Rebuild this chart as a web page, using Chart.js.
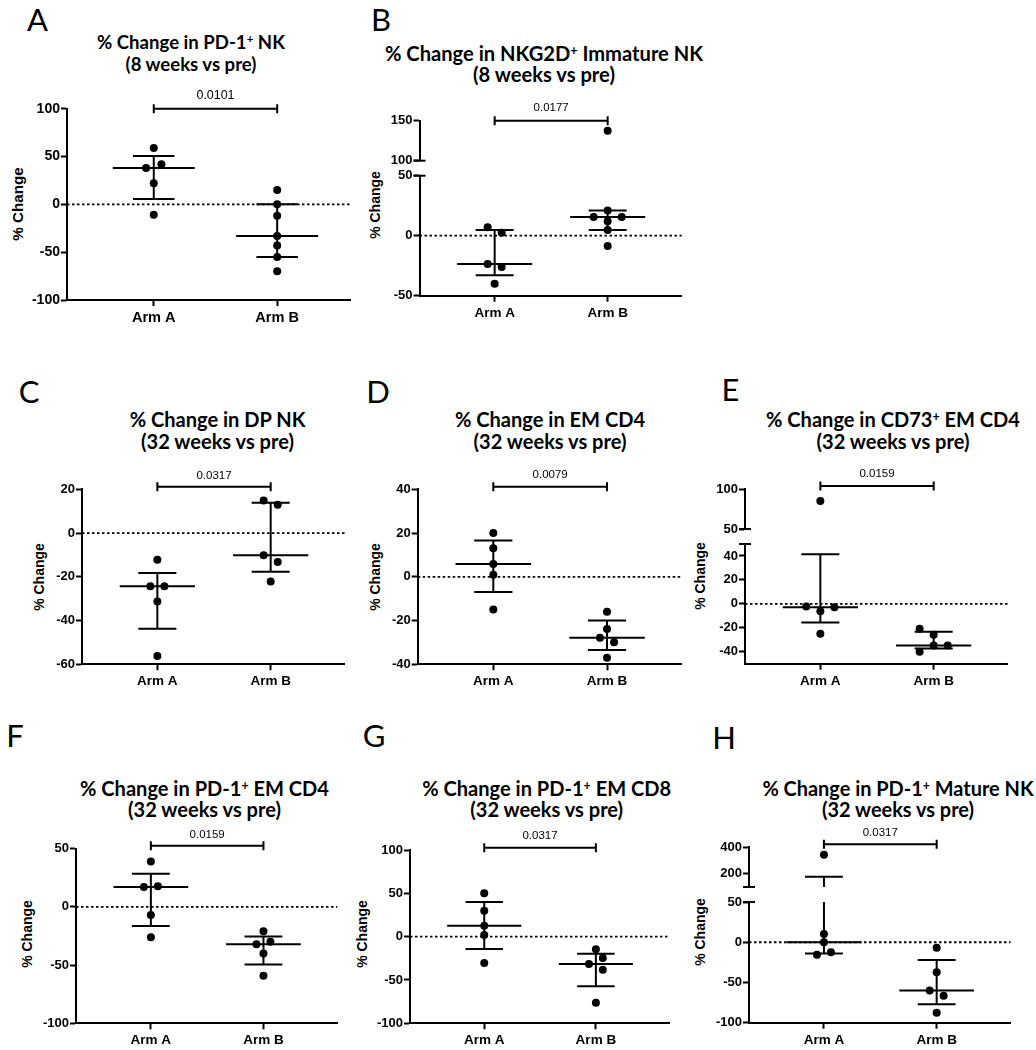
<!DOCTYPE html>
<html>
<head>
<meta charset="utf-8">
<script src="https://cdn.jsdelivr.net/npm/chart.js@4.4.1/dist/chart.umd.min.js"></script>
<style>
  html, body { margin: 0; padding: 0; background: #fff; }
  #page { position: relative; width: 1036px; height: 1050px; overflow: hidden; background: #fff; }
  #page canvas { position: absolute; }
  .letter { position: absolute; font-family: Lato, sans-serif; font-size: 31px; line-height: 1; color: #000; transform: translate(-50%, -50%); }
  .title { position: absolute; font-family: Lato, sans-serif; font-weight: 700; font-size: 20px; line-height: 1; color: #000; white-space: nowrap; transform: translate(-50%, -50%); }
  .title sup { font-size: 0.62em; position: relative; top: -0.45em; vertical-align: baseline; line-height: 0; }
  .ytitle { position: absolute; font-family: "Liberation Sans", Arial, sans-serif; font-weight: 700; font-size: 14px; line-height: 1; color: #000; white-space: nowrap; transform: translate(-50%, -50%) rotate(-90deg); }
</style>
</head>
<body>
<div id="page"></div>
<script>
const categories = ["Arm A", "Arm B"];

const panelLetters = ["A", "B", "C", "D", "E", "F", "G", "H"];
const titleLines1 = [
  "% Change in PD-1<sup>+</sup> NK",
  "% Change in NKG2D<sup>+</sup> Immature NK",
  "% Change in DP NK",
  "% Change in EM CD4",
  "% Change in CD73<sup>+</sup> EM CD4",
  "% Change in PD-1<sup>+</sup> EM CD4",
  "% Change in PD-1<sup>+</sup> EM CD8",
  "% Change in PD-1<sup>+</sup> Mature NK"
];
const titleLines2 = [
  "(8 weeks vs pre)", "(8 weeks vs pre)", "(32 weeks vs pre)", "(32 weeks vs pre)",
  "(32 weeks vs pre)", "(32 weeks vs pre)", "(32 weeks vs pre)", "(32 weeks vs pre)"
];
const pValues = ["0.0101", "0.0177", "0.0317", "0.0079", "0.0159", "0.0159", "0.0317", "0.0317"];
const yTitle = "% Change";

// % change per subject (Arm A / Arm B)
const pd1NkA = [59, 42, 38, 22, -11];
const pd1NkB = [15, 0, -12, -33, -43, -55, -70];
const nkg2dA = [7, 2.5, -23.5, -26, -40];
const nkg2dB = [137.5, 21, 15.5, 12, 15.5, 4.7, -8.5];
const dpNkA = [-12.2, -24.3, -24.3, -31.3, -56.2];
const dpNkB = [14.9, 12.9, -10.2, -13.2, -22.2];
const emCd4A = [20, 13.1, 5.9, 0.9, -14.9];
const emCd4B = [-16, -23.9, -27.9, -29.9, -37];
const cd73A = [85, -2.2, -6.1, -2.8, -25];
const cd73B = [-20.8, -25.8, -34.7, -34.7, -40];
const pd1Cd4A = [39.1, 17.1, 17.7, -6.9, -26];
const pd1Cd4B = [-20.9, -32, -30, -40, -59.1];
const pd1Cd8A = [50, 30, 12.7, 1.9, -30.4];
const pd1Cd8B = [-14.6, -31.5, -24.6, -38.1, -76.2];
const pd1MatA = [344, 10.3, 0, -15.7, -12.4];
const pd1MatB = [-7, -37.2, -59.9, -66.5, -87.6];

// y tick labels
const pd1NkTicks = [-100, -50, 0, 50, 100];
const nkg2dTicksUpper = [100, 150];
const nkg2dTicksLower = [-50, 0, 50];
const dpNkTicks = [-60, -40, -20, 0, 20];
const emCd4Ticks = [-40, -20, 0, 20, 40];
const cd73TicksUpper = [50, 100];
const cd73TicksLower = [-40, -20, 0, 20, 40];
const pd1Cd4Ticks = [-100, -50, 0, 50];
const pd1Cd8Ticks = [-100, -50, 0, 50, 100];
const pd1MatTicksUpper = [200, 400];
const pd1MatTicksLower = [-100, -50, 0, 50];

// sideways spread of the dots (in half-dot steps), as prism laid them out
const zeros = (n) => new Array(n).fill(0);
const jitter = {
  pd1NkA: [0, 1, -1, 0, 0], pd1NkB: zeros(7),
  nkg2dA: [-1, 1, -1, 1, 0], nkg2dB: [0, 0, -2, 0, 2, 0, 0],
  dpNkA: [0, -1, 1, 0, 0], dpNkB: [-1, 1, -1, 1, 0],
  emCd4A: zeros(5), emCd4B: [0, 0, -1, 1, 0],
  cd73A: [0, -2, 0, 2, 0], cd73B: [-2, 0, 0, 2, -2],
  pd1Cd4A: [0, -1, 1, 0, 0], pd1Cd4B: [0, -1, 1, 0, 0],
  pd1Cd8A: zeros(5), pd1Cd8B: [0, -1, 1, 1, 0],
  pd1MatA: [0, 0, 0, -1, 1], pd1MatB: [0, 0, -1, 1, 0]
};

const YW = 50;        // width kept for y tick labels
const XH = 34;        // height kept for x tick labels
const PAD_TOP = 34;   // room for the p-value bracket
const PAD_RIGHT = 6;
const HALF_LANE = 0.062;
const MED_W = 0.332;
const CAP_W = 0.168;
const X_RANGE = [0.335, 2.655];

// page layout of each panel (pixels)
const panels = [
  { values: [pd1NkA, pd1NkB], lanes: [jitter.pd1NkA, jitter.pd1NkB], big: true,
    letterAt: [37.5, 19], titleX: 191, titleY: [41.5, 63.5], titleW: 131, yTitleAt: [18.3, 204],
    left: 67, right: 350, xRange: [0.297, 2.59], lift: 0, gap: 13.5,
    segments: [{ min: -100, max: 100, ticks: pd1NkTicks, top: 108.7, bottom: 300 }] },
  { values: [nkg2dA, nkg2dB], lanes: [jitter.nkg2dA, jitter.nkg2dB],
    letterAt: [381, 19], titleX: 544, titleY: [53, 73.5], titleW: 142, yTitleAt: [375, 205],
    left: 419.5, right: 681.7, lift: 0, gap: 12.4,
    segments: [{ min: 100, max: 150, ticks: nkg2dTicksUpper, top: 120.7, bottom: 160.7 },
               { min: -50, max: 50, ticks: nkg2dTicksLower, top: 175.7, bottom: 295.7 }] },
  { values: [dpNkA, dpNkB], lanes: [jitter.dpNkA, jitter.dpNkB],
    letterAt: [29, 391], titleX: 217.5, titleY: [419, 440.7], titleW: 153, yTitleAt: [39.3, 577],
    left: 82, right: 344.9, lift: 2.5, gap: 11,
    segments: [{ min: -60, max: 20, ticks: dpNkTicks, top: 489.3, bottom: 664.3 }] },
  { values: [emCd4A, emCd4B], lanes: [jitter.emCd4A, jitter.emCd4B],
    letterAt: [378, 391], titleX: 550, titleY: [419, 440.7], titleW: 153, yTitleAt: [375, 577],
    left: 417.7, right: 681.5, lift: 2.5, gap: 12,
    segments: [{ min: -40, max: 40, ticks: emCd4Ticks, top: 489.3, bottom: 664.3 }] },
  { values: [cd73A, cd73B], lanes: [jitter.cd73A, jitter.cd73B],
    letterAt: [730.5, 389], titleX: 893, titleY: [419, 440.7], titleW: 153, yTitleAt: [700, 576],
    left: 745, right: 1007.9, lift: 3, gap: 12,
    segments: [{ min: 50, max: 100, ticks: cd73TicksUpper, top: 489, bottom: 529 },
               { min: -50, max: 50, ticks: cd73TicksLower, top: 544, bottom: 663.7 }] },
  { values: [pd1Cd4A, pd1Cd4B], lanes: [jitter.pd1Cd4A, jitter.pd1Cd4B],
    letterAt: [15, 735], titleX: 204.5, titleY: [787.5, 809], titleW: 153, yTitleAt: [26.7, 934],
    left: 76, right: 337.2, lift: 3, gap: 10.7,
    segments: [{ min: -100, max: 50, ticks: pd1Cd4Ticks, top: 848.7, bottom: 1023.3 }] },
  { values: [pd1Cd8A, pd1Cd8B], lanes: [jitter.pd1Cd8A, jitter.pd1Cd8B],
    letterAt: [374, 735], titleX: 546.7, titleY: [787.5, 809], titleW: 153, yTitleAt: [361.7, 934],
    left: 410, right: 669, lift: 2.3, gap: 11.7,
    segments: [{ min: -100, max: 100, ticks: pd1Cd8Ticks, top: 850, bottom: 1023.3 }] },
  { values: [pd1MatA, pd1MatB], lanes: [jitter.pd1MatA, jitter.pd1MatB],
    letterAt: [724, 737], titleX: 898, titleY: [788.5, 810], titleW: 152, yTitleAt: [700, 932],
    left: 749, right: 1010.5, lift: 3, gap: 11,
    segments: [{ min: 100, max: 400, ticks: pd1MatTicksUpper, top: 847.3, bottom: 887 },
               { min: -100, max: 50, ticks: pd1MatTicksLower, top: 902, bottom: 1022.7 }] }
];

const page = document.getElementById("page");
const SANS = "'Liberation Sans', Arial, sans-serif";

// prism-style quantile: position p*(n+1), linear between neighbours
const quantile = (sorted, p) => {
  const n = sorted.length;
  const h = p * (n + 1);
  if (h <= 1) return sorted[0];
  if (h >= n) return sorted[n - 1];
  const lo = Math.floor(h);
  return sorted[lo - 1] + (h - lo) * (sorted[lo] - sorted[lo - 1]);
};

// median line, two caps and the whisker, broken apart by null points
const errorBarPoints = (vals, c) => {
  const s = [...vals].sort((a, b) => a - b);
  const med = quantile(s, 0.5), q1 = quantile(s, 0.25), q3 = quantile(s, 0.75);
  return [
    { x: c - MED_W, y: med }, { x: c + MED_W, y: med }, { x: c, y: null },
    { x: c - CAP_W, y: q3 }, { x: c + CAP_W, y: q3 }, { x: c, y: null },
    { x: c - CAP_W, y: q1 }, { x: c + CAP_W, y: q1 }, { x: c, y: null },
    { x: c, y: q1 }, { x: c, y: q3 }
  ];
};

const decorations = {
  id: "decorations",
  afterDatasetsDraw(chart, args, opts) {
    const { ctx, chartArea } = chart;
    const x = chart.scales.x;
    ctx.save();
    ctx.strokeStyle = "#000";
    ctx.fillStyle = "#000";
    ctx.lineWidth = 2;
    if (opts.breakAt) {
      const y = opts.breakAt === "top" ? chartArea.top : chartArea.bottom;
      ctx.beginPath();
      ctx.moveTo(chartArea.left - 6, y);
      ctx.lineTo(chartArea.left + 6, y);
      ctx.stroke();
    }
    if (opts.pValue) {
      const x1 = x.getPixelForValue(1);
      const x2 = x.getPixelForValue(2);
      const y = chartArea.top - opts.lift;
      ctx.beginPath();
      ctx.moveTo(x1, y); ctx.lineTo(x2, y);
      ctx.moveTo(x1, y - 4.5); ctx.lineTo(x1, y + 4.5);
      ctx.moveTo(x2, y - 4.5); ctx.lineTo(x2, y + 4.5);
      ctx.stroke();
      ctx.font = `${opts.fontSize}px ${SANS}`;
      ctx.textAlign = "center";
      ctx.textBaseline = "middle";
      ctx.fillText(opts.pValue, (x1 + x2) / 2, y - opts.gap);
    }
    ctx.restore();
  }
};

const buildSegment = (panel, idx, seg, si) => {
  const n = panel.segments.length;
  const last = si === n - 1;
  const k = panel.big ? 1.08 : 1;
  const [xMin, xMax] = panel.xRange || X_RANGE;

  const below = last ? XH : 10;
  const cLeft = Math.floor(panel.left - YW);
  const cTop = Math.floor(seg.top - PAD_TOP);
  const cRight = Math.ceil(panel.right + PAD_RIGHT);
  const cBottom = Math.ceil(seg.bottom + below);

  const canvas = document.createElement("canvas");
  canvas.width = cRight - cLeft;
  canvas.height = cBottom - cTop;
  canvas.style.left = cLeft + "px";
  canvas.style.top = cTop + "px";
  canvas.style.width = canvas.width + "px";
  canvas.style.height = canvas.height + "px";
  page.appendChild(canvas);

  const inSeg = (v) => v >= seg.min && v <= seg.max;
  const datasets = [];

  panel.values.forEach((vals, a) => {
    datasets.push({
      data: vals
        .map((v, j) => ({ x: a + 1 + panel.lanes[a][j] * HALF_LANE, y: v }))
        .filter((p) => inSeg(p.y)),
      pointRadius: 4,
      pointBackgroundColor: "#000",
      pointBorderWidth: 0,
      showLine: false,
      clip: false
    });
  });

  panel.values.forEach((vals, a) => {
    datasets.push({
      data: errorBarPoints(vals, a + 1),
      showLine: true,
      borderColor: "#000",
      borderWidth: 2,
      pointRadius: 0,
      spanGaps: false,
      clip: 0
    });
  });

  if (inSeg(0)) {
    datasets.push({
      data: [{ x: xMin, y: 0 }, { x: xMax, y: 0 }],
      showLine: true,
      borderColor: "#000",
      borderWidth: 1.8,
      borderDash: [2.5, 2.5],
      pointRadius: 0,
      clip: false
    });
  }

  let breakAt = null;
  if (n > 1) breakAt = si === 0 ? "bottom" : "top";

  new Chart(canvas, {
    type: "scatter",
    data: { datasets },
    options: {
      responsive: false,
      animation: false,
      events: [],
      layout: {
        autoPadding: false,
        padding: {
          left: panel.left - YW - cLeft,
          top: seg.top - cTop,
          right: cRight - panel.right,
          bottom: cBottom - seg.bottom - (last ? XH : 0)
        }
      },
      plugins: {
        legend: { display: false },
        tooltip: { enabled: false },
        decorations: {
          breakAt,
          pValue: si === 0 ? pValues[idx] : null,
          lift: panel.lift,
          gap: panel.gap,
          fontSize: 11.5 * k
        }
      },
      scales: {
        x: {
          type: "linear",
          min: xMin,
          max: xMax,
          display: last,
          afterBuildTicks: (s) => { s.ticks = categories.map((_, j) => ({ value: j + 1 })); },
          afterFit: last ? (s) => { s.height = XH; } : undefined,
          ticks: {
            callback: (v, j) => categories[j],
            color: "#000",
            font: { family: SANS, size: 13.5 * k, weight: "bold" },
            padding: 3,
            maxRotation: 0,
            autoSkip: false
          },
          grid: { drawOnChartArea: false, drawTicks: true, tickLength: 6, tickWidth: 2, color: "#000" },
          border: { display: true, width: 2, color: "#000" }
        },
        y: {
          type: "linear",
          min: seg.min,
          max: seg.max,
          afterBuildTicks: (s) => { s.ticks = seg.ticks.map((v) => ({ value: v })); },
          afterFit: (s) => { s.width = YW; },
          ticks: {
            callback: (v) => String(v),
            color: "#000",
            font: { family: SANS, size: 13 * k, weight: "bold" },
            padding: 1
          },
          grid: { drawOnChartArea: false, drawTicks: true, tickLength: 6, tickWidth: 2, color: "#000" },
          border: { display: true, width: 2, color: "#000" }
        }
      }
    },
    plugins: [decorations]
  });
};

const addDiv = (cls, html, x, y) => {
  const d = document.createElement("div");
  d.className = cls;
  d.innerHTML = html;
  d.style.left = x + "px";
  d.style.top = y + "px";
  page.appendChild(d);
  return d;
};

panels.forEach((panel, idx) => {
  addDiv("letter", panelLetters[idx], panel.letterAt[0], panel.letterAt[1]);

  const t1 = addDiv("title", titleLines1[idx], panel.titleX, panel.titleY[0]);
  const t2 = addDiv("title", titleLines2[idx], panel.titleX, panel.titleY[1]);
  // size the title so the second line is as wide as in the figure
  const size = 20 * panel.titleW / t2.getBoundingClientRect().width;
  t1.style.fontSize = size + "px";
  t2.style.fontSize = size + "px";

  const yt = addDiv("ytitle", yTitle, panel.yTitleAt[0], panel.yTitleAt[1]);
  if (panel.big) yt.style.fontSize = "15.2px";

  panel.segments.forEach((seg, si) => buildSegment(panel, idx, seg, si));
});
</script>
</body>
</html>
